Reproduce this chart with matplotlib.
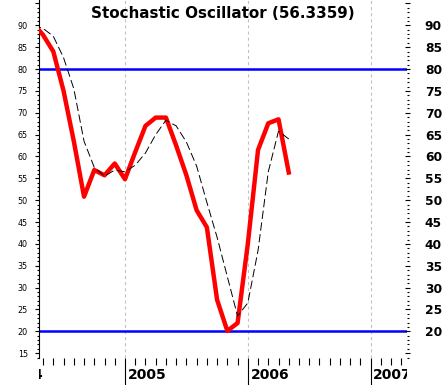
import matplotlib
matplotlib.use("Agg")
import matplotlib.pyplot as plt
from matplotlib.ticker import MultipleLocator, FixedLocator
from matplotlib.transforms import Bbox, TransformedBbox, offset_copy, blended_transform_factory

plt.rcParams['lines.scale_dashes'] = False

# monthly points (year, month)
months = [(2004, 4), (2004, 5), (2004, 6), (2004, 7), (2004, 8), (2004, 9),
          (2004, 10), (2004, 11), (2004, 12), (2005, 1), (2005, 2), (2005, 3),
          (2005, 4), (2005, 5), (2005, 6), (2005, 7), (2005, 8), (2005, 9),
          (2005, 10), (2005, 11), (2005, 12), (2006, 1), (2006, 2), (2006, 3),
          (2006, 4), (2006, 5)]
# %K (thick red)
stoch_k = [90.5, 87.8, 84.0, 75.0, 63.5, 50.8, 56.9, 55.7, 58.4, 54.8, 61.0, 67.0,
           68.9, 68.9, 62.5, 55.7, 47.7, 43.8, 27.2, 20.1, 21.9, 40.0, 61.5, 67.6,
           68.5, 56.3359]
# %D (thin dashed black)
stoch_d = [90.0, 89.3, 87.5, 82.6, 75.5, 63.5, 57.5, 55.5, 56.9, 56.5, 58.0, 60.8,
           65.0, 68.3, 67.0, 63.3, 57.8, 49.5, 41.5, 32.5, 23.5, 26.5, 38.5, 56.5,
           65.8, 64.0]
years = [2004, 2005, 2006, 2007]
levels = [80, 20]

x = [y + (m - 1) / 12 for y, m in months]

fig = plt.figure(figsize=(4.45, 3.85), dpi=100)
L, R, B, T = 39 / 445, 407 / 445, 1 - 358 / 385, 1.0
ax = fig.add_axes([L, B, R - L, T - B])

for lv in levels:
    ax.axhline(lv, color='#0000ff', lw=1.8, zorder=1)
for yr in years[1:]:
    ax.axvline(yr, color='#c0c0c0', lw=0.8, ls=(0, (2.2, 2.2)), zorder=0)

ax.plot(x, stoch_k, color='#ff0000', lw=3.2, zorder=3, solid_joinstyle='round')
ax.plot(x, stoch_d, color='black', lw=0.7, dashes=(6, 2.5), zorder=4)

ax.set_xlim(2004.30, 2007.296)
ax.set_ylim(13.9, 95.8)

for s in ['top', 'right', 'bottom']:
    ax.spines[s].set_visible(False)
ax.spines['left'].set_linewidth(0.8)

# x axis: months minor, years major, labels drawn clipped to plot width
ax.xaxis.set_major_locator(FixedLocator(years))
ax.xaxis.set_minor_locator(MultipleLocator(1 / 12))
ax.tick_params(axis='x', which='major', length=19.5, width=0.8, labelbottom=False)
ax.tick_params(axis='x', which='minor', length=5, width=0.8)

trans = blended_transform_factory(ax.transData, ax.transAxes)
trans = offset_copy(trans, fig=fig, x=2.7, y=0, units='dots')
clip = TransformedBbox(Bbox.from_extents(L, 0, R, B), fig.transFigure)
for yr in years:
    t = ax.text(yr, -17.3 / 358, str(yr), transform=trans, ha='left', va='center',
                fontsize=10, fontweight='bold', family='DejaVu Sans', clip_on=True)
    t.set_clip_box(clip)

# left y axis
ticks = list(range(15, 100, 5))
ax.yaxis.set_major_locator(FixedLocator(ticks))
ax.yaxis.set_minor_locator(MultipleLocator(1))
ax.set_yticklabels([str(t) if t <= 90 else '' for t in ticks], fontsize=5.8)
ax.tick_params(axis='y', which='major', length=3, width=0.8, pad=5)
ax.tick_params(axis='y', which='minor', length=1.5, width=0.8)

# right y axis
ax2 = ax.twinx()
ax2.set_ylim(ax.get_ylim())
for s in ax2.spines.values():
    s.set_visible(False)
ax2.yaxis.set_major_locator(FixedLocator(ticks))
ax2.yaxis.set_minor_locator(MultipleLocator(1))
ax2.set_yticklabels([str(t) if 20 <= t <= 90 else '' for t in ticks],
                    fontsize=8.8, fontweight='bold')
ax2.tick_params(axis='y', which='major', direction='inout', length=3.6, width=0.8, pad=11)
ax2.tick_params(axis='y', which='minor', direction='out', length=1.2, width=0.8)

ax.text(0.5, 1 - 13.3 / 358, 'Stochastic Oscillator (56.3359)', transform=ax.transAxes,
        ha='center', va='center', fontsize=10.9, fontweight='bold', zorder=5)

fig.savefig('out.png', dpi=100)
